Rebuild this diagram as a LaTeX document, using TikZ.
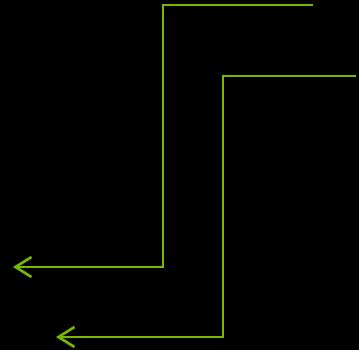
\documentclass[tikz,border=0pt]{standalone}
\usepackage{tikz}
\usetikzlibrary{arrows.meta}
\definecolor{wiregreen}{RGB}{118,185,0}
\tikzset{
wire/.style={
    draw=wiregreen,
    line width=2.6pt,
    -{Straight Barb[length=16pt, width=20pt, line width=2.6pt]}
}
}

\begin{document}
\begin{tikzpicture}[x=1pt, y=-1pt]

% BACKGROUND
\fill[black] (0,0) rectangle (359,350);
\useasboundingbox (0,0) rectangle (359,350);

% FIRST PATH
\coordinate (startA) at (313,5);
\coordinate (bendA) at (163,5);
\coordinate (cornerA) at (163,267);
\coordinate (endA) at (13,267);

% SECOND PATH
\coordinate (startB) at (356,76);
\coordinate (bendB) at (223,76);
\coordinate (cornerB) at (223,337);
\coordinate (endB) at (56,337);

% ARROWS
\draw[wire] (startA) -- (bendA) -- (cornerA) -- (endA);
\draw[wire] (startB) -- (bendB) -- (cornerB) -- (endB);

\end{tikzpicture}
\end{document}
